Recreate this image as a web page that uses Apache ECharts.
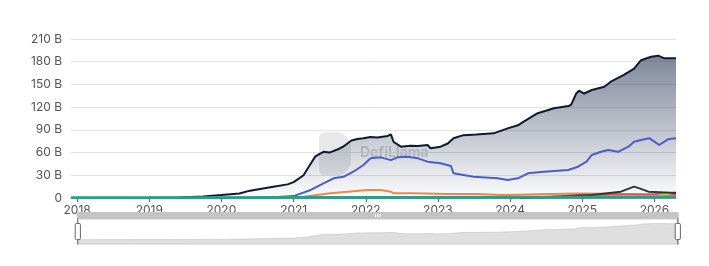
<!DOCTYPE html>
<html>
<head>
<meta charset="utf-8">
<script src="https://cdn.jsdelivr.net/npm/echarts@6/dist/echarts.min.js"></script>
<style>
html,body{margin:0;padding:0;background:#fff;}
#c{width:709px;height:266px;}
</style>
</head>
<body>
<div id="c"></div>
<script>
// Values in billions (B)
const yTicks = [0, 30, 60, 90, 120, 150, 180, 210];
const totalSeries = [
  ["2017-12-01",0],["2019-01-01",0.2],["2019-06-01",0.5],["2019-10-01",2],["2020-01-01",4],
  ["2020-04-01",6],["2020-05-25",9.7],["2020-07-15",12],["2020-09-20",15],["2020-12-01",18],
  ["2021-01-01",21],["2021-02-20",30],["2021-03-20",42],["2021-04-20",54.6],["2021-05-10",58],
  ["2021-06-01",61],["2021-07-01",60],["2021-08-10",64],["2021-09-10",68],["2021-10-20",76],
  ["2021-11-20",78],["2021-12-20",79],["2022-01-25",80.6],["2022-03-01",80],
  ["2022-04-22",82],["2022-05-08",84],["2022-05-22",74],["2022-06-28",67.8],["2022-08-15",69],
  ["2022-09-22",68.7],["2022-11-10",70],["2022-11-25",65.6],["2023-01-15",67.8],["2023-02-20",72],
  ["2023-03-21",79],["2023-05-10",83],["2023-07-15",84],["2023-10-10",85.4],["2023-12-20",92],
  ["2024-02-10",96],["2024-03-10",100.8],["2024-05-20",112],["2024-08-10",118.5],["2024-10-22",121.5],
  ["2024-11-05",123],["2024-12-01",138],["2024-12-15",141.7],["2025-01-10",138],["2025-02-18",142.6],
  ["2025-04-22",147],["2025-05-25",153.6],["2025-07-30",162.5],["2025-09-20",171],["2025-10-25",182],
  ["2025-12-15",186.6],["2026-01-20",188],["2026-02-20",184.5],["2026-04-20",184.5]
];
const blueSeries = [
  ["2017-12-01",0],["2020-06-01",0.3],["2020-09-20",1],["2021-01-01",2.5],["2021-03-28",10.6],
  ["2021-04-15",13],["2021-06-01",19.4],["2021-07-22",26],["2021-09-10",28],["2021-10-30",34.7],
  ["2021-12-20",43.6],["2022-01-25",52.4],["2022-03-18",53.7],["2022-05-08",50],["2022-06-10",53.7],
  ["2022-07-30",54.6],["2022-09-22",52.4],["2022-11-10",48],["2023-01-15",45.8],["2023-03-08",42.3],
  ["2023-03-21",32.6],["2023-07-01",28],["2023-10-30",26],["2023-12-20",23.8],["2024-02-10",26],
  ["2024-04-01",32.6],["2024-06-20",34.7],["2024-10-22",37],["2024-12-10",41.3],["2025-01-22",48],
  ["2025-02-18",56.8],["2025-04-05",61],["2025-05-12",63.4],["2025-07-01",61],["2025-08-22",67.8],
  ["2025-09-20",74.4],["2025-10-25",76.6],["2025-12-05",79],["2026-01-01",74.4],["2026-01-25",70],
  ["2026-03-10",77.5],["2026-04-20",79]
];
const orangeSeries = [
  ["2017-12-01",0],["2020-10-01",0.2],["2020-12-15",0.5],["2021-02-20",1.5],["2021-07-05",6.2],
  ["2021-10-01",8.4],["2022-01-10",10.6],["2022-03-18",10.6],["2022-05-08",8.4],["2022-05-22",6.2],
  ["2022-09-01",6.2],["2023-02-20",5.3],["2023-07-20",5.3],["2023-12-01",4],["2024-05-20",4.9],
  ["2024-12-10",6],["2025-05-25",5.5],["2026-04-20",4]
];
const tealSeries = [
  ["2017-12-01",0.3],["2019-06-01",0.4],["2021-01-01",0.6],["2022-06-01",0.8],["2024-06-01",1],
  ["2026-04-20",1.2]
];
const graySeries = [
  ["2024-02-25",0],["2024-09-15",2],["2025-02-18",4],["2025-07-15",8.4],["2025-09-20",15],
  ["2025-10-25",12],["2025-12-01",8.4],["2026-04-20",6.5]
];
const redSeries = [
  ["2024-06-01",0.5],["2024-12-01",3.5],["2025-06-01",4.5],["2026-01-01",5],["2026-04-20",5.5]
];
const limeSeries = [
  ["2025-10-01",0.5],["2026-01-01",2],["2026-03-01",5],["2026-04-20",8]
];

const chart = echarts.init(document.getElementById('c'));
const FONT = 'Inter, "Noto Sans", sans-serif';
const DAY = 86400000;
function lineSeries(name, data, color, width, extra) {
  return Object.assign({
    name: name, type: 'line', data: data, symbol: 'none', smooth: false,
    lineStyle: { color: color, width: width }, itemStyle: { color: color }
  }, extra || {});
}
chart.setOption({
  animation: false,
  grid: { left: 71, right: 33, top: 39, bottom: 68 },
  xAxis: {
    type: 'time',
    min: '2017-12-01',
    max: '2026-04-20',
    minInterval: 365 * DAY,
    maxInterval: 366 * DAY,
    splitNumber: 10,
    axisLine: { show: true, lineStyle: { color: '#999' } },
    axisTick: { show: true, length: 4, lineStyle: { color: '#666' } },
    splitLine: { show: false },
    axisLabel: { formatter: '{yyyy}', color: '#555', fontSize: 12, fontFamily: FONT, margin: 6 }
  },
  yAxis: {
    type: 'value',
    min: yTicks[0],
    max: yTicks[yTicks.length - 1],
    interval: 30,
    axisLine: { show: false },
    axisTick: { show: false },
    splitLine: { lineStyle: { color: '#e2e2e2' } },
    axisLabel: {
      formatter: function (v) { return v === 0 ? '0' : v + ' B'; },
      color: '#555', fontSize: 12, fontFamily: FONT, margin: 9
    }
  },
  dataZoom: [{
    type: 'slider', xAxisIndex: 0, left: 74, right: 33, bottom: 28, height: 26,
    start: 0, end: 100, showDetail: false,
    borderColor: '#d0d0d0',
    backgroundColor: 'rgba(0,0,0,0)',
    fillerColor: 'rgba(0,0,0,0)',
    dataBackground: { lineStyle: { color: '#ccc', width: 0.5 }, areaStyle: { color: '#d8d8d8', opacity: 0.8 } },
    selectedDataBackground: { lineStyle: { color: '#bbb', width: 0.5 }, areaStyle: { color: '#dcdcdc', opacity: 0.9 } },
    handleStyle: { color: '#fff', borderColor: '#666' },
    moveHandleSize: 7,
    moveHandleStyle: { color: '#c4c4c4', opacity: 1 },
    handleSize: '100%'
  }],
  graphic: [{
    type: 'text', left: 360, top: 146, z: 0,
    style: { text: 'DefiLlama', fill: 'rgba(130,130,130,0.35)', font: 'bold 14px ' + FONT }
  }, {
    type: 'rect', left: 319, top: 132, z: 0,
    shape: { width: 32, height: 44, r: [6, 16, 16, 6] },
    style: { fill: 'rgba(150,150,150,0.22)' }
  }],
  series: [
    lineSeries('Total', totalSeries, '#0f1a30', 2, {
      areaStyle: {
        color: new echarts.graphic.LinearGradient(0, 0, 0, 1, [
          { offset: 0, color: 'rgba(25,40,75,0.8)' },
          { offset: 1, color: 'rgba(25,40,75,0.02)' }
        ])
      }, z: 2
    }),
    lineSeries('Blue', blueSeries, '#4a5ec8', 2, { z: 3 }),
    lineSeries('Orange', orangeSeries, '#f0874a', 2, { z: 3 }),
    lineSeries('Red', redSeries, '#d9534f', 2, { z: 3 }),
    lineSeries('Gray', graySeries, '#333333', 2, { z: 4 }),
    lineSeries('Lime', limeSeries, '#c5d84a', 2, { z: 3 }),
    lineSeries('Teal', tealSeries, '#2e9c86', 3, { z: 5 })
  ]
});
</script>
</body>
</html>
